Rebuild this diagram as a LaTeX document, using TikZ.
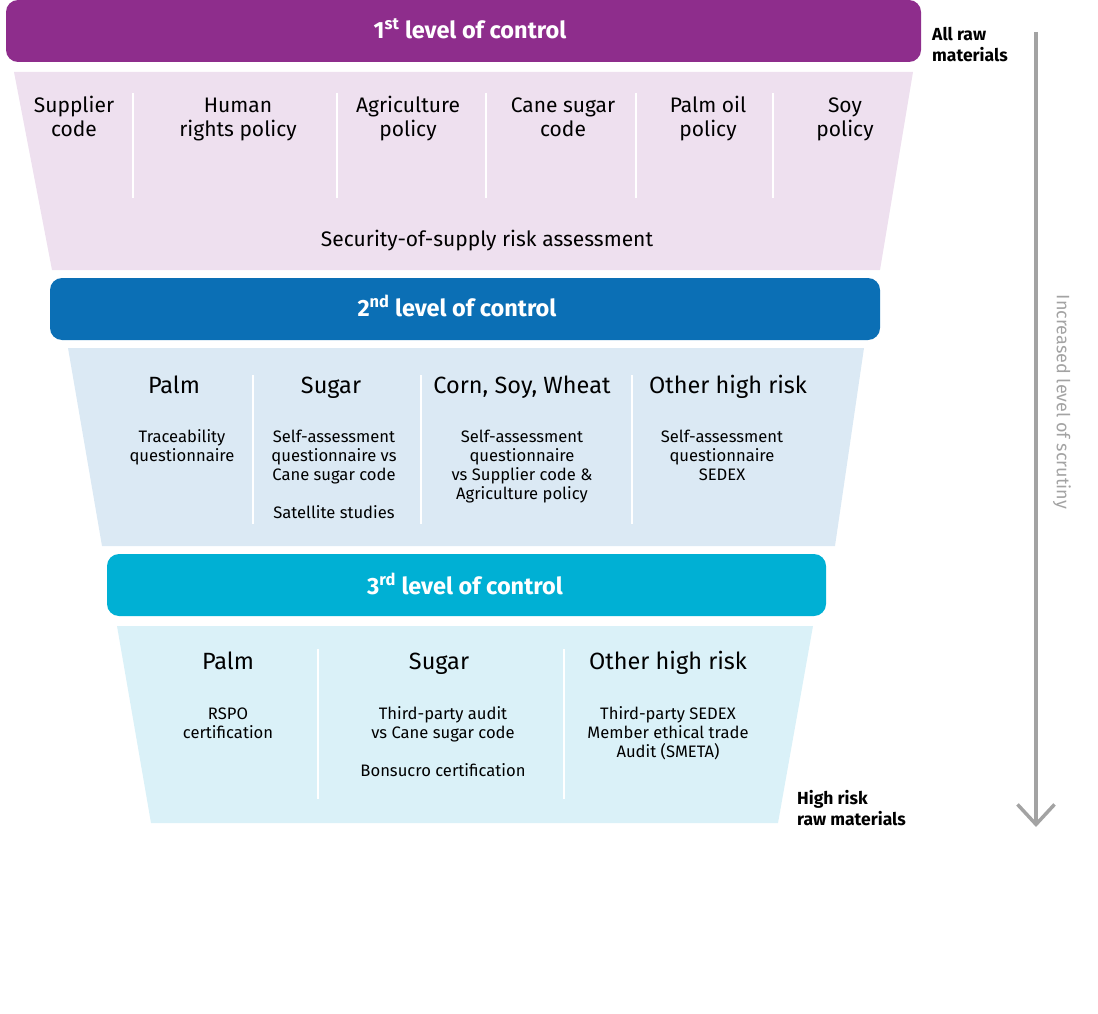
\documentclass[tikz,border=0pt]{standalone}
\usepackage{fontspec}
\setmainfont{Fira Sans}
\usetikzlibrary{arrows.meta}
\definecolor{ctrlone}{HTML}{8E2D8C}
\definecolor{ctrltwo}{HTML}{0B6FB5}
\definecolor{ctrlthree}{HTML}{00B0D4}
\definecolor{funone}{HTML}{EEE0EF}
\definecolor{funtwo}{HTML}{DBE9F4}
\definecolor{funthree}{HTML}{DAF1F8}
\definecolor{scrutgray}{HTML}{A3A3A3}
\begin{document}
\begin{tikzpicture}[x=1pt,y=-1pt,line join=round,
  ctrlbar/.style={rounded corners=12pt},
  ctrltext/.style={anchor=base,text=white,font=\fontsize{23.5}{27}\selectfont\bfseries,inner sep=0pt},
  divider/.style={white,line width=2pt},
  itemtext/.style={anchor=north,align=center,inner sep=0pt,font=\fontsize{21}{24.5}\selectfont},
  cattext/.style={anchor=base,inner sep=0pt,font=\fontsize{23.5}{27}\selectfont},
  subtext/.style={anchor=north,align=center,inner sep=0pt,font=\fontsize{16.6}{19}\selectfont},
  sidetext/.style={anchor=north west,align=left,inner sep=0pt,font=\fontsize{17.5}{19}\selectfont\bfseries}]
\useasboundingbox (0,0) rectangle (1098,1014);
% 1st level
\fill[ctrlone,ctrlbar] (6,0) rectangle (921,62);
\node[ctrltext] (lvlone) at (470,38.5) {1\textsuperscript{st} level of control};
\fill[funone] (14,72) -- (913,72) -- (880,270) -- (52,270) -- cycle;
\foreach \xd in {133,337,486,636,773} \draw[divider] (\xd,93) -- (\xd,198);
\node[itemtext] (supp) at (74,94.85) {\strut Supplier\\code};
\node[itemtext] (human) at (238,94.85) {\strut Human\\rights policy};
\node[itemtext] (agri) at (408,94.85) {\strut Agriculture\\policy};
\node[itemtext] (cane) at (563,94.85) {\strut Cane sugar\\code};
\node[itemtext] (palmoil) at (708,94.85) {\strut Palm oil\\policy};
\node[itemtext] (soy) at (845,94.85) {\strut Soy\\policy};
\node[itemtext,anchor=base] (secsup) at (487,246) {Security-of-supply risk assessment};
% 2nd level
\fill[ctrltwo,ctrlbar] (50,278) rectangle (880,340);
\node[ctrltext] (lvltwo) at (457,316.5) {2\textsuperscript{nd} level of control};
\fill[funtwo] (68,348) -- (864,348) -- (835,546) -- (102,546) -- cycle;
\foreach \xd in {253,421,632} \draw[divider] (\xd,375) -- (\xd,524);
\node[cattext] (palmtwo) at (174,393.3) {Palm};
\node[cattext] (sugartwo) at (331,393.3) {Sugar};
\node[cattext] (corntwo) at (522,393.3) {Corn, Soy, Wheat};
\node[cattext] (othertwo) at (728,393.3) {Other high risk};
\node[subtext] (trace) at (182,429.2) {\strut Traceability\\questionnaire};
\node[subtext] (selfsug) at (334,429.2) {\strut Self-assessment\\questionnaire vs\\Cane sugar code\\[19pt]Satellite studies};
\node[subtext] (selfcorn) at (522,429.2) {\strut Self-assessment\\questionnaire\\vs Supplier code \&\\Agriculture policy};
\node[subtext] (selfoth) at (722,429.2) {\strut Self-assessment\\questionnaire\\SEDEX};
% 3rd level
\fill[ctrlthree,ctrlbar] (107,554) rectangle (826,616);
\node[ctrltext] (lvlthree) at (465,594.5) {3\textsuperscript{rd} level of control};
\fill[funthree] (117,626) -- (813,626) -- (778,823) -- (151,823) -- cycle;
\foreach \xd in {318,564} \draw[divider] (\xd,649) -- (\xd,799);
\node[cattext] (palmthree) at (228,669) {Palm};
\node[cattext] (sugarthree) at (439,669) {Sugar};
\node[cattext] (otherthree) at (668,669) {Other high risk};
\node[subtext] (rspo) at (228,705.7) {\strut RSPO\\certification};
\node[subtext] (audit) at (443,705.7) {\strut Third-party audit\\vs Cane sugar code\\[19pt]Bonsucro certification};
\node[subtext] (smeta) at (668,705.7) {\strut Third-party SEDEX\\Member ethical trade\\Audit (SMETA)};
% side labels and arrow
\node[sidetext] (allraw) at (932,26.7) {\strut All raw\\materials};
\node[sidetext] (highrisk) at (797,790) {\strut High risk\\raw materials};
\coordinate (scrtop) at (1036,32);
\coordinate (scrbot) at (1036,827);
\draw[scrutgray,line width=3.5pt,-{Straight Barb[length=20pt,width=37pt,line width=3.5pt]}] (scrtop) -- (scrbot);
\node[rotate=-90,text=scrutgray,inner sep=0pt,font=\fontsize{18}{21}\selectfont] (scrut) at (1062,402) {Increased level of scrutiny};
\end{tikzpicture}
\end{document}
